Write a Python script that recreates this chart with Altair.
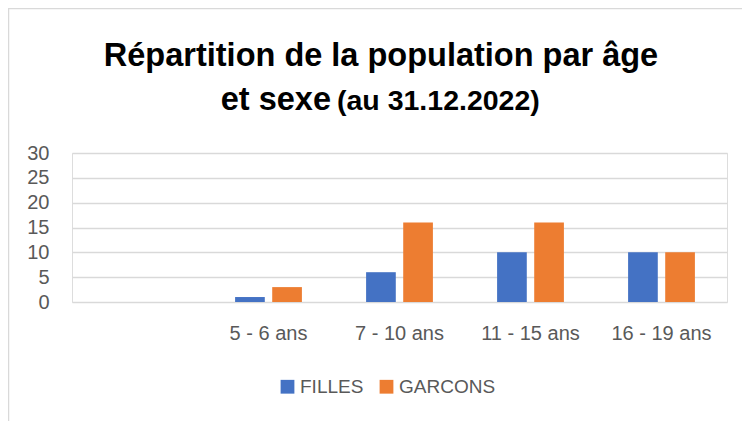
import altair as alt
import pandas as pd

categories = ["", "5 - 6 ans", "7 - 10 ans", "11 - 15 ans", "16 - 19 ans"]
groups = ["5 - 6 ans", "7 - 10 ans", "11 - 15 ans", "16 - 19 ans"]
filles = [1, 6, 10, 10]
garcons = [3, 16, 16, 10]
series = ["FILLES", "GARCONS"]
colors = ["#4472C4", "#ED7D31"]
y_ticks = [0, 5, 10, 15, 20, 25, 30]

rows = []
for g, f, b in zip(groups, filles, garcons):
    rows.append({"cat": g, "sexe": "FILLES", "val": f})
    rows.append({"cat": g, "sexe": "GARCONS", "val": b})
df = pd.DataFrame(rows)

FONT = "Liberation Sans"
GRAY = "#595959"

bars = alt.Chart(df).mark_bar().encode(
    x=alt.X("cat:N", sort=categories,
            scale=alt.Scale(domain=categories, paddingInner=0.49, paddingOuter=0.245),
            axis=alt.Axis(title=None, labelAngle=0, ticks=False, tickSize=0, domain=False,
                          labelFont=FONT, labelFontSize=20, labelColor=GRAY,
                          labelBaseline="middle", labelPadding=31, grid=False)),
    xOffset=alt.XOffset("sexe:N", sort=series,
                        scale=alt.Scale(paddingInner=0.2, paddingOuter=0)),
    y=alt.Y("val:Q", scale=alt.Scale(domain=[0, 30], nice=False),
            axis=alt.Axis(title=None, values=y_ticks, ticks=False, domain=False,
                          grid=True, gridColor="#D9D9D9", gridWidth=1.5,
                          labelFont=FONT, labelFontSize=20, labelColor=GRAY,
                          labelPadding=23)),
    color=alt.Color("sexe:N", sort=series,
                    scale=alt.Scale(domain=series, range=colors),
                    legend=alt.Legend(title=None, orient="none", direction="horizontal",
                                      legendX=206, legendY=224, symbolType="square",
                                      symbolSize=190, symbolStrokeWidth=0,
                                      labelFont=FONT, labelFontSize=19, labelColor=GRAY,
                                      columnPadding=13, padding=0, labelOffset=3)),
)

title1 = alt.Chart().mark_text(font=FONT, fontSize=32.5, fontWeight="bold", color="black",
                               align="center", baseline="alphabetic").encode(
    x=alt.value(309), y=alt.value(-87), text=alt.value("Répartition de la population par âge"))
title2a = alt.Chart().mark_text(font=FONT, fontSize=32.5, fontWeight="bold", color="black",
                                align="right", baseline="alphabetic").encode(
    x=alt.value(259), y=alt.value(-43), text=alt.value("et sexe"))
title2b = alt.Chart().mark_text(font=FONT, fontSize=28.5, fontWeight="bold", color="black",
                                align="left", baseline="alphabetic").encode(
    x=alt.value(265), y=alt.value(-43), text=alt.value("(au 31.12.2022)"))

border_left = alt.Chart().mark_rule(color="#D9D9D9", strokeWidth=1.5).encode(
    x=alt.value(-63.5), y=alt.value(-145), y2=alt.value(275))
border_top = alt.Chart().mark_rule(color="#D9D9D9", strokeWidth=1.5).encode(
    x=alt.value(-64), x2=alt.value(680), y=alt.value(-144.5))

chart = alt.layer(border_left, border_top, bars, title1, title2a, title2b).properties(
    width=655, height=149,
    padding={"left": 64, "top": 145, "right": 15, "bottom": 127},
    autosize=alt.AutoSizeParams(type="none"),
).configure_view(stroke=None).configure(background="white")

chart.save("out.html", embed_options={"renderer": "svg", "actions": False})
